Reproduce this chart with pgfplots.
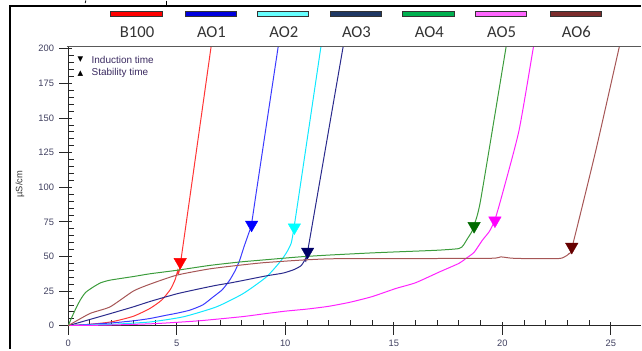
\documentclass[border=0pt]{standalone}
\usepackage{pgfplots}
\pgfplotsset{compat=1.18}
\usepackage{fontspec}
\setmainfont{Liberation Sans}
\newfontfamily\calibri{Carlito}
\newfontfamily\dejavu{DejaVu Sans}
\definecolor{tickc}{HTML}{3F3F5F}
\definecolor{txtc}{HTML}{333333}
\definecolor{purp}{HTML}{3A2A60}
% line colours
\definecolor{lred}{HTML}{FF3535}
\definecolor{lblue}{HTML}{3A3AFF}
\definecolor{lcyan}{HTML}{10E8FF}
\definecolor{lnavy}{HTML}{2A2A8C}
\definecolor{lgreen}{HTML}{3C9C3C}
\definecolor{lpink}{HTML}{FF22FF}
\definecolor{lbrown}{HTML}{A65656}
% marker colours
\definecolor{mred}{HTML}{FF0000}
\definecolor{mblue}{HTML}{0000FF}
\definecolor{mcyan}{HTML}{00FFFF}
\definecolor{mnavy}{HTML}{000066}
\definecolor{mgreen}{HTML}{006A00}
\definecolor{mpink}{HTML}{FF00FF}
\definecolor{mbrown}{HTML}{660000}
% legend rectangle colours
\definecolor{gred}{HTML}{FF0000}
\definecolor{gblue}{HTML}{0000DD}
\definecolor{gcyan}{HTML}{66FFFF}
\definecolor{gnavy}{HTML}{1F3864}
\definecolor{ggreen}{HTML}{00B050}
\definecolor{gpink}{HTML}{FF66FF}
\definecolor{gbrown}{HTML}{7B2C2C}
\pgfplotsset{
  ind/.style={only marks, mark=triangle*, mark size=5.4pt,
    mark options={rotate=180, fill=#1, draw=#1, line width=0.3pt}},
  crv/.style={no markers, smooth, tension=0.35, line width=0.75pt, color=#1},
}
\begin{document}
\begin{tikzpicture}
\begin{scope}[x=0.75pt, y=-0.75pt, shift={(-51.225pt,244.25pt)}]
\useasboundingbox (0,0) rectangle (642,349);
\end{scope}
\begin{axis}[
  at={(0,0)}, anchor=south west,
  scale only axis, width=430.275pt, height=209.98pt,
  xmin=0, xmax=26.39, ymin=0, ymax=201.9,
  axis x line*=bottom, axis y line*=left,
  axis line style={black!85, line width=0.6pt, -},
  xtick={0,5,...,25}, ytick={0,25,...,200},
  minor x tick num=4, minor y tick num=4,
  tick align=inside, major tick length=3pt, minor tick length=4.5pt,
  tick style={black!85, line width=0.6pt},
  extra x ticks={0,5,...,25}, extra y ticks={0,25,...,200},
  extra x tick labels={}, extra y tick labels={},
  extra tick style={tick align=outside, major tick length=6.75pt},
  /pgf/number format/assume math mode=true,
  xticklabel style={font=\fontsize{7}{8}\selectfont, text=tickc, inner sep=0pt, anchor=north, yshift=-10.5pt},
  yticklabel style={font=\fontsize{7}{8}\selectfont, text=tickc, inner sep=0pt, anchor=east, xshift=-10.5pt},
  clip=true,
]
% B100
\addplot[crv=lred] coordinates {(0,0) (1,1) (2,2.8) (3,6.8) (3.77,12.5) (4.3,18.4) (4.7,26) (4.92,33) (5.05,40) (5.18,46) (6.57,200) (6.61,205)};
\addplot[ind=mred] coordinates {(5.16,46)};
% AO1
\addplot[crv=lblue] coordinates {(0,0) (1,1) (2,2) (3,3.5) (3.77,5.2) (4.5,7.5) (5,9) (5.6,11.2) (6.2,15) (6.68,20.8) (7.1,26) (7.44,32.9) (7.7,40) (7.9,47.3) (8.1,57) (8.3,66) (8.44,73) (8.7,100) (9.66,200) (9.71,205)};
\addplot[ind=mblue] coordinates {(8.45,73)};
% AO2
\addplot[crv=lcyan] coordinates {(0,0) (2,1) (3.77,2.7) (5.3,6.4) (6.83,13.6) (8.06,23.2) (9.13,35.2) (9.82,47.3) (10.2,56.9) (10.4,70.5) (11.63,200) (11.68,205)};
\addplot[ind=mcyan] coordinates {(10.42,71)};
% AO3
\addplot[crv=lnavy] coordinates {(0,0) (1,4.5) (2,9) (3,13.6) (3.77,17.5) (5,23) (6,26.5) (6.83,29.2) (7.44,30.8) (8,32.5) (9.13,36) (9.9,38) (10.4,40.5) (10.74,43.5) (10.95,49) (11.04,54.5) (12.65,200) (12.71,205)};
\addplot[ind=mnavy] coordinates {(11.03,53.5)};
% AO4
\addplot[crv=lgreen] coordinates {(0,0) (0.25,9) (0.55,18.4) (0.8,24) (1.16,28) (1.5,31) (1.93,32.9) (3,35.5) (3.77,37.5) (5,40) (6.5,43.5) (7.9,46) (9,47.5) (10.66,49.7) (12,51) (13.88,52.5) (15.1,53.3) (17,54.5) (18,55.7) (18.2,58) (18.4,63) (18.6,68) (18.7,72.6) (19,90.6) (20.16,200) (20.21,205)};
\addplot[ind=mgreen] coordinates {(18.7,72)};
% AO5
\addplot[crv=lpink] coordinates {(0,0) (2,0.5) (4,1.5) (6,3.5) (8,6.5) (9.13,8.8) (10,10.5) (11,12) (12,14) (13,17) (14,21) (15.1,26.9) (16,31) (17.1,38.8) (18,45) (18.32,48.5) (18.7,53) (19.08,61.7) (19.4,68) (19.65,76) (20,95) (20.77,141) (21.42,200) (21.47,205)};
\addplot[ind=mpink] coordinates {(19.66,76)};
% AO6
\addplot[crv=lbrown] coordinates {(0,0) (1,8.8) (1.93,13.6) (3,25) (3.77,30) (5,36.5) (6.5,41) (7.9,43.7) (9,45.5) (10.66,47.3) (12,48.3) (13.88,48.5) (16,48.5) (19.5,48.7) (19.93,49.7) (20.4,48.8) (21,48.5) (22.6,48.5) (22.9,50) (23.07,52) (23.22,57) (24.3,126) (25.37,200) (25.45,205)};
\addplot[ind=mbrown] coordinates {(23.2,57)};
\end{axis}
\begin{scope}[x=0.75pt, y=-0.75pt, shift={(-51.225pt,244.25pt)}]
% top axis line
\draw[black!65, line width=0.6pt] (66.7,45.7) -- (642,45.7);
% outer frame
\draw[black, line width=1.5pt] (10,349) -- (10,5.3) -- (642,5.3);
\draw[black, line width=0.8pt] (166.7,0) -- (166.7,5);
\draw[black, line width=0.6pt] (86,0) -- (85.3,2.5);
% y label
\node[rotate=90, font=\fontsize{7}{8}\selectfont, text=txtc] at (20,184) {µS/cm};
% inner legend
\node[font=\dejavu\fontsize{5.5}{6}\selectfont] at (80.5,59.5) {▼};
\node[font=\dejavu\fontsize{5.5}{6}\selectfont] at (80.5,73) {▲};
\node[anchor=west, inner sep=0pt, font=\fontsize{7.5}{8}\selectfont, text=purp] at (91.5,59) {Induction time};
\node[anchor=west, inner sep=0pt, font=\fontsize{7.5}{8}\selectfont, text=purp] at (91.5,73) {Stability time};
% series legend
\foreach \cx/\col/\lab in {136.5/gred/B100, 211/gblue/AO1, 283.5/gcyan/AO2, 356.2/gnavy/AO3, 429.2/ggreen/AO4, 501.5/gpink/AO5, 576.5/gbrown/AO6}{
  \draw[fill=\col, draw=black!80, line width=0.5pt] (\cx-25.8,10.7) rectangle (\cx+25.8,16);
  \node[font=\calibri\fontsize{12.5}{14}\selectfont, text=txtc] at (\cx+0.8,31.7) {\lab};
}
\end{scope}
\end{tikzpicture}
\end{document}
